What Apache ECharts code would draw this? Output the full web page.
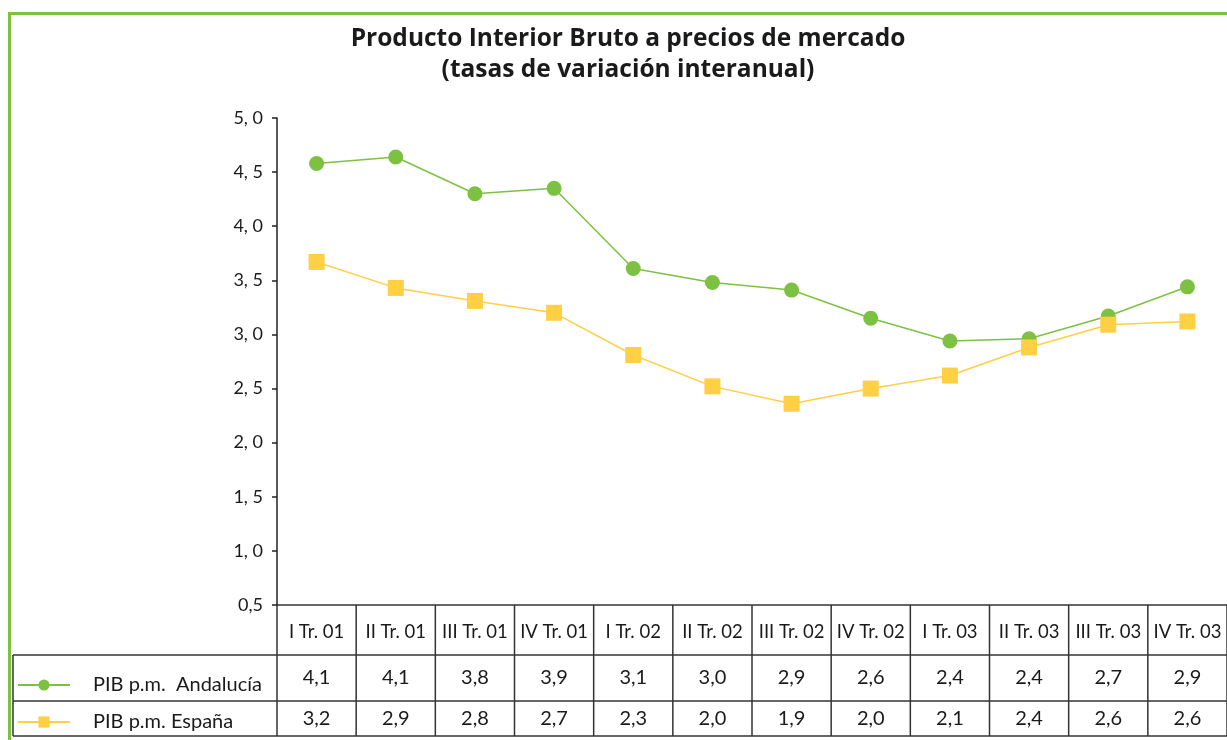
<!DOCTYPE html>
<html>
<head>
<meta charset="utf-8">
<script src="https://cdn.jsdelivr.net/npm/echarts@6/dist/echarts.min.js"></script>
<style>
  html, body { margin: 0; padding: 0; background: #fff; }
  #pib { width: 1227px; height: 740px; }
</style>
</head>
<body>
<div id="pib"></div>
<script>
// trimestres
var categories = ['I Tr. 01', 'II Tr. 01', 'III Tr. 01', 'IV Tr. 01', 'I Tr. 02', 'II Tr. 02',
  'III Tr. 02', 'IV Tr. 02', 'I Tr. 03', 'II Tr. 03', 'III Tr. 03', 'IV Tr. 03'];
var andaluciaPlot = [4.58, 4.64, 4.30, 4.35, 3.61, 3.48, 3.41, 3.15, 2.94, 2.96, 3.17, 3.44];
var espanaPlot = [3.67, 3.43, 3.31, 3.20, 2.81, 2.52, 2.36, 2.50, 2.62, 2.88, 3.09, 3.12];
// valores de la tabla de datos
var andaluciaTabla = ['4,1', '4,1', '3,8', '3,9', '3,1', '3,0', '2,9', '2,6', '2,4', '2,4', '2,7', '2,9'];
var espanaTabla = ['3,2', '2,9', '2,8', '2,7', '2,3', '2,0', '1,9', '2,0', '2,1', '2,4', '2,6', '2,6'];
// etiquetas del eje Y
var yTicks = [0.5, 1.0, 1.5, 2.0, 2.5, 3.0, 3.5, 4.0, 4.5, 5.0];
var yTickLabels = ['0,5', '1, 0', '1, 5', '2, 0', '2, 5', '3, 0', '3, 5', '4, 0', '4, 5', '5, 0'];

var verde = '#7dc142';
var amarillo = '#ffcf44';
var fuente = 'Lato, "Open Sans", sans-serif';

var chart = echarts.init(document.getElementById('pib'));

function leyenda(nombre, top) {
  return {
    orient: 'vertical',
    left: 12,
    top: top,
    itemWidth: 52,
    itemHeight: 14,
    textStyle: { fontFamily: fuente, fontSize: 20, color: '#1a1a1a', padding: [0, 0, 0, 18] },
    data: [nombre]
  };
}

var option = {
  animation: false,
  title: {
    text: 'Producto Interior Bruto a precios de mercado\n(tasas de variación interanual)',
    left: 623,
    textAlign: 'center',
    top: 19,
    textStyle: { fontFamily: '"Open Sans", sans-serif', fontSize: 24.5, fontWeight: 'bold', color: '#1a1a1a', lineHeight: 31 }
  },
  legend: [
    leyenda('PIB p.m.  Andalucía', 670),
    leyenda('PIB p.m. España', 707)
  ],
  grid: { left: 277, right: 0, top: 118, bottom: 135 },
  xAxis: {
    type: 'category',
    data: categories,
    boundaryGap: true,
    axisLine: { show: false },
    axisTick: { show: false },
    axisLabel: { show: false }
  },
  yAxis: {
    type: 'value',
    min: 0.5,
    max: 5.0,
    interval: 0.5,
    splitLine: { show: false },
    axisLine: { show: true, lineStyle: { color: '#222', width: 1.5 } },
    axisTick: { show: true, length: 5, lineStyle: { color: '#222', width: 1.5 } },
    axisLabel: {
      margin: 14,
      fontFamily: fuente,
      fontSize: 18,
      color: '#1a1a1a',
      formatter: function (v) {
        for (var i = 0; i < yTicks.length; i++) {
          if (Math.abs(yTicks[i] - v) < 1e-6) return yTickLabels[i];
        }
        return '';
      }
    }
  },
  series: [
    {
      name: 'PIB p.m.  Andalucía',
      type: 'line',
      data: andaluciaPlot,
      symbol: 'circle',
      symbolSize: 15,
      itemStyle: { color: verde },
      lineStyle: { color: verde, width: 1.5 }
    },
    {
      name: 'PIB p.m. España',
      type: 'line',
      data: espanaPlot,
      symbol: 'rect',
      symbolSize: 16,
      itemStyle: { color: amarillo },
      lineStyle: { color: amarillo, width: 1.5 }
    }
  ]
};
chart.setOption(option);

// tabla de datos bajo el gráfico
function dibujarTabla() {
  var g = [];
  var linea = { stroke: '#333', lineWidth: 1.5 };
  var x0 = chart.convertToPixel({ xAxisIndex: 0 }, 0);
  var x1 = chart.convertToPixel({ xAxisIndex: 0 }, 1);
  var paso = x1 - x0;
  var izq = x0 - paso / 2;
  var der = izq + paso * categories.length;
  var yTop = chart.convertToPixel({ yAxisIndex: 0 }, 0.5);
  var yFila1 = 655, yFila2 = 701, yFin = 736;

  // bordes del marco verde
  g.push({ type: 'line', shape: { x1: 8, y1: 13.5, x2: 1227, y2: 13.5 }, style: { stroke: verde, lineWidth: 3 } });
  g.push({ type: 'line', shape: { x1: 9.5, y1: 12, x2: 9.5, y2: 740 }, style: { stroke: verde, lineWidth: 3 } });

  // líneas horizontales
  g.push({ type: 'line', shape: { x1: izq, y1: yTop, x2: der, y2: yTop }, style: linea });
  [yFila1, yFila2, yFin].forEach(function (y) {
    g.push({ type: 'line', shape: { x1: 13, y1: y, x2: der, y2: y }, style: linea });
  });
  // líneas verticales
  g.push({ type: 'line', shape: { x1: 13, y1: yFila1, x2: 13, y2: yFin }, style: linea });
  for (var i = 0; i <= categories.length; i++) {
    var x = izq + paso * i;
    g.push({ type: 'line', shape: { x1: x, y1: yTop, x2: x, y2: yFin }, style: linea });
  }
  // textos
  var txt = { fontFamily: fuente, fill: '#1a1a1a', align: 'center', verticalAlign: 'middle' };
  categories.forEach(function (c, i) {
    var cx = chart.convertToPixel({ xAxisIndex: 0 }, i);
    g.push({ type: 'text', x: cx, y: (yTop + yFila1) / 2 + 2, style: Object.assign({ text: c, fontSize: 18.5 }, txt) });
    g.push({ type: 'text', x: cx, y: (yFila1 + yFila2) / 2, style: Object.assign({ text: andaluciaTabla[i], fontSize: 20 }, txt) });
    g.push({ type: 'text', x: cx, y: (yFila2 + yFin) / 2, style: Object.assign({ text: espanaTabla[i], fontSize: 20 }, txt) });
  });
  chart.setOption({ graphic: { elements: g } });
}
dibujarTabla();
</script>
</body>
</html>
